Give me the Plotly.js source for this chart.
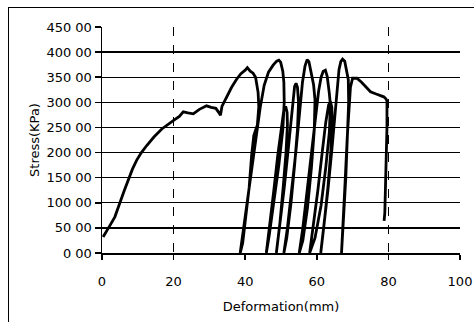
<!DOCTYPE html>
<html>
<head>
<meta charset="utf-8">
<script src="https://cdn.plot.ly/plotly-3.0.1.min.js"></script>
<style>
  html, body { margin: 0; padding: 0; background: #fff; width: 474px; height: 322px; overflow: hidden; }
  #frame { position: absolute; left: 8px; top: 7px; width: 480px; height: 330px;
           border-left: 1.5px solid #000; border-top: 1.5px solid #000; }
  #chart { position: absolute; left: 0; top: 0; width: 474px; height: 322px; }
</style>
</head>
<body>
<div id="frame"></div>
<div id="chart"></div>
<script>
// Deformation (mm) and stress (kPa) along the recorded loading / unloading path
const deformation = [
  0.3, 1.2, 2.4, 3.6, 4.5, 5.2, 6.2, 7.3, 8.5, 9.7, 11, 12.5, 14.5, 16.7, 18.5, 20.4, 21.6, 22.7, 24, 25.5,
  27.2, 29.2, 30.5, 31.8, 32.6, 33.1, 33.5, 34.8, 36.2, 37.6, 38.8, 40, 40.6, 41.4, 42.2, 42.9,
  43.6, 43.8, 43.4, 42.4, 41.8, 41.1, 40.2, 39.3, 38.6,
  39.4, 40.6, 41.8, 43.2, 44.2, 45.3, 46.5, 47.8, 48.8, 49.4, 49.9, 50.5, 50.8,
  50.9, 50.5, 49.4, 48.0, 46.7, 45.9,
  46.9, 48.0, 49.1, 50.1, 50.8, 51.3, 51.7, 51.8,
  51.4, 50.6, 49.7, 48.7,
  49.7, 50.9, 52.0, 52.8, 53.4, 53.8, 54.2, 54.6, 54.9,
  54.6, 53.8, 52.8, 51.6, 50.8,
  51.8, 53, 54.2, 55.2, 56, 56.7, 57.3, 57.8, 58.4, 59.1, 59.5,
  59.3, 58.5, 57.4, 56.1, 55.1,
  56.1, 57.3, 58.5, 59.6, 60.5, 61.2, 61.8, 62.4, 62.9, 63.5, 63.8,
  63.5, 62.5, 61.2, 59.5, 58.0,
  59.0, 60.3, 61.5, 62.5, 63.3, 63.8, 64.2, 64.3,
  63.9, 63.1, 62.0, 61.1,
  62.0, 63.1, 64.2, 65.0, 65.7, 66.2, 66.7, 67.2, 67.8, 68.4, 68.8,
  68.9, 68.6, 68.1, 67.5, 67.1, 66.9,
  67.3, 67.9, 68.5, 69.0, 69.4, 70, 71.2, 72.5, 73.8, 75, 76.4, 77.6, 78.7, 79.3, 79.6,
  79.6, 79.4, 79.2, 79.0, 78.8
];
const stress = [
  32, 44, 57, 72, 88, 104, 124, 146, 167, 185, 200, 214, 231, 247, 257, 266, 272, 281, 279, 277,
  286, 293, 290, 288, 280, 274, 292, 311, 330, 346, 357, 364, 369, 362, 358, 350,
  320, 291, 255, 234, 195, 130, 70, 20, 0,
  40, 100, 165, 236, 290, 334, 360, 374, 382, 384, 380, 362, 340,
  300, 245, 175, 100, 35, 0,
  55, 125, 195, 255, 285, 292, 280, 255,
  200, 130, 60, 0,
  55, 130, 205, 265, 310, 332, 338, 330, 300,
  245, 175, 100, 30, 0,
  50, 125, 205, 280, 340, 372, 385, 381, 362, 335, 305,
  245, 170, 90, 25, 0,
  50, 125, 200, 270, 322, 350, 362, 364, 352, 318, 295,
  240, 170, 95, 30, 0,
  50, 125, 200, 260, 295, 302, 290, 260,
  200, 130, 55, 0,
  50, 125, 205, 275, 330, 365, 381, 386, 382, 362, 345,
  300, 230, 150, 75, 25, 0,
  50, 140, 230, 295, 330, 348, 348, 340, 329, 321, 317, 314, 311, 307, 303,
  250, 170, 110, 80, 64
];

const xTickVals = [0, 20, 40, 60, 80, 100];
const xTickText = ["0", "20", "40", "60", "80", "100"];
const xGridVals = [20, 80];
const yTickVals = [0, 50, 100, 150, 200, 250, 300, 350, 400, 450];
const yTickText = ["0 00", "50 00", "100 00", "150 00", "200 00", "250 00", "300 00", "350 00", "400 00", "450 00"];

const font = { family: "DejaVu Sans, sans-serif", size: 13, color: "#000" };

const traces = [
  {
    x: deformation, y: stress, type: "scatter", mode: "lines",
    line: { color: "#000", width: 2.8 }, hoverinfo: "skip", showlegend: false
  },
  {
    x: [null], y: [null], xaxis: "x2", type: "scatter", mode: "lines",
    hoverinfo: "skip", showlegend: false
  }
];

const layout = {
  width: 474, height: 322,
  margin: { l: 102, r: 14, t: 27, b: 69, pad: 0 },
  paper_bgcolor: "rgba(0,0,0,0)", plot_bgcolor: "rgba(0,0,0,0)",
  font: font,
  showlegend: false,
  xaxis: {
    range: [0, 100], tickvals: xTickVals, ticktext: xTickText,
    showgrid: false, zeroline: false,
    showline: true, linecolor: "#000", linewidth: 2.2,
    ticks: "outside", ticklen: 5, tickwidth: 1.5, tickcolor: "#000",
    ticklabelstandoff: 10,
    tickfont: font,
    title: { text: "Deformation(mm)", font: font, standoff: 14 }
  },
  xaxis2: {
    range: [0, 100], overlaying: "x", tickvals: xGridVals,
    showticklabels: false, ticks: "", showline: false, zeroline: false,
    showgrid: true, gridcolor: "#000", gridwidth: 1, griddash: "dash"
  },
  yaxis: {
    range: [0, 450], tickvals: yTickVals, ticktext: yTickText,
    showgrid: true, gridcolor: "#000", gridwidth: 1.4,
    zeroline: false,
    showline: true, linecolor: "#000", linewidth: 1.5,
    ticks: "outside", ticklen: 6, tickwidth: 1.5, tickcolor: "#000",
    tickfont: font,
    title: { text: "Stress(KPa)", font: font, standoff: 4 }
  }
};

Plotly.newPlot("chart", traces, layout, { staticPlot: true, displayModeBar: false });
</script>
</body>
</html>
